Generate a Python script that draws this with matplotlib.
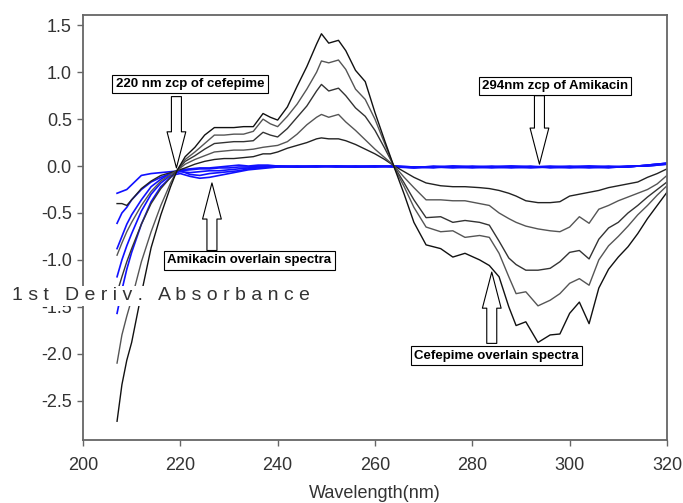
import matplotlib
matplotlib.use('Agg')
import matplotlib.pyplot as plt

plt.rcParams['font.family'] = ['Liberation Sans', 'DejaVu Sans']
plt.rcParams['axes.unicode_minus'] = False

# cefepime 1st derivative spectra (5 concentrations)
wavelength = [207, 208, 209, 210, 212, 214, 216, 218, 219.3, 221, 223, 225, 227, 229, 231, 233, 235, 237,
              238.5, 240, 242, 244, 246, 248, 249, 250.5, 252.5, 254, 256, 258, 260, 262, 264,
              266, 268, 270.5, 273.5, 276, 278.5, 281.5, 283.5, 285.5, 287.5,
              289, 291, 293.5, 296, 298, 300, 302, 304, 306, 308, 310, 312, 314, 316, 318, 320]

cef_1 = [-0.40, -0.40, -0.42, -0.36, -0.24, -0.16, -0.10, -0.07, -0.05,
         -0.02, 0.02, 0.05, 0.07, 0.08, 0.08, 0.09, 0.10, 0.13,
         0.13, 0.15, 0.19, 0.22, 0.25, 0.29, 0.30,
         0.29, 0.29, 0.27, 0.23, 0.18, 0.13, 0.07, 0.00,
         -0.06, -0.12, -0.18, -0.21, -0.22, -0.22, -0.23, -0.24, -0.26, -0.29,
         -0.32, -0.37, -0.39, -0.39, -0.38, -0.32, -0.30, -0.28, -0.26, -0.23,
         -0.21, -0.19, -0.17, -0.12, -0.08, -0.03]
cef_2 = [-0.95, -0.82, -0.70, -0.60, -0.42, -0.27, -0.16, -0.09, -0.05,
         0.02, 0.07, 0.11, 0.15, 0.16, 0.17, 0.17, 0.18, 0.20,
         0.21, 0.22, 0.26, 0.34, 0.44, 0.52, 0.55,
         0.52, 0.55, 0.47, 0.38, 0.28, 0.18, 0.09, 0.00,
         -0.12, -0.23, -0.36, -0.36, -0.37, -0.37, -0.40, -0.42, -0.50, -0.56,
         -0.60, -0.64, -0.67, -0.69, -0.70, -0.65, -0.54, -0.61, -0.46, -0.42,
         -0.37, -0.33, -0.29, -0.25, -0.19, -0.10]
cef_3 = [-1.35, -1.18, -1.02, -0.88, -0.62, -0.40, -0.24, -0.12, -0.05,
         0.05, 0.11, 0.18, 0.24, 0.25, 0.26, 0.26, 0.27, 0.36,
         0.33, 0.31, 0.40, 0.52, 0.64, 0.80, 0.87,
         0.80, 0.83, 0.75, 0.62, 0.53, 0.38, 0.19, -0.01,
         -0.18, -0.36, -0.55, -0.54, -0.60, -0.58, -0.60, -0.63, -0.80, -0.98,
         -1.05, -1.11, -1.11, -1.09, -1.02, -0.92, -0.90, -0.99, -0.78, -0.66,
         -0.60, -0.50, -0.42, -0.33, -0.25, -0.17]
cef_4 = [-2.10, -1.80, -1.60, -1.42, -1.02, -0.70, -0.42, -0.18, -0.05,
         0.07, 0.15, 0.24, 0.33, 0.33, 0.34, 0.34, 0.37, 0.50,
         0.45, 0.42, 0.53, 0.66, 0.82, 1.00, 1.12,
         1.10, 1.13, 1.03, 0.82, 0.71, 0.50, 0.24, -0.02,
         -0.22, -0.44, -0.65, -0.70, -0.69, -0.76, -0.74, -0.76, -0.93, -1.18,
         -1.36, -1.34, -1.49, -1.43, -1.36, -1.25, -1.20, -1.27, -1.00, -0.85,
         -0.75, -0.64, -0.52, -0.42, -0.31, -0.21]
cef_5 = [-2.72, -2.33, -2.07, -1.88, -1.36, -0.87, -0.52, -0.22, -0.05,
         0.10, 0.20, 0.33, 0.41, 0.41, 0.41, 0.42, 0.42, 0.56,
         0.52, 0.49, 0.63, 0.85, 1.06, 1.30, 1.41,
         1.31, 1.34, 1.23, 1.02, 0.90, 0.57, 0.27, -0.02,
         -0.30, -0.60, -0.84, -0.88, -0.97, -0.93, -1.00, -1.06, -1.18, -1.50,
         -1.70, -1.66, -1.88, -1.80, -1.79, -1.57, -1.45, -1.68, -1.30, -1.10,
         -0.97, -0.86, -0.72, -0.56, -0.42, -0.28]

# amikacin 1st derivative spectra
amk_wavelength = [207, 208, 209, 210, 212, 214, 216, 218,
                  220, 222, 224, 226, 228, 230, 232, 234, 236, 238, 240,
                  244, 248, 252, 256, 260, 264, 268, 272, 276, 280,
                  284, 288, 292, 296, 300, 304, 308, 312, 316, 320]
amk_1 = [-0.29, -0.27, -0.25, -0.20, -0.10, -0.08, -0.07, -0.06,
         -0.05, -0.04, -0.03, -0.03, -0.02, -0.02, -0.01, -0.01, 0.00, 0.00, 0.00,
         -0.01, 0.00, -0.01, 0.00, 0.00, -0.01, -0.02, 0.00, -0.01, -0.02,
         -0.01, 0.00, -0.01, -0.01, -0.02, -0.01, 0.00, -0.01, 0.01, 0.03]
amk_2 = [-0.61, -0.50, -0.44, -0.36, -0.25, -0.17, -0.12, -0.08,
         -0.06, -0.07, -0.06, -0.05, -0.05, -0.04, -0.03, -0.02, -0.01, -0.01, 0.00,
         0.00, -0.01, 0.00, -0.01, 0.00, 0.00, -0.01, -0.01, 0.00, -0.01,
         -0.02, -0.01, 0.00, -0.02, -0.01, 0.00, -0.01, 0.00, 0.00, 0.02]
amk_3 = [-0.88, -0.75, -0.62, -0.52, -0.36, -0.22, -0.14, -0.08,
         -0.05, -0.09, -0.10, -0.08, -0.07, -0.06, -0.05, -0.03, -0.02, -0.01, -0.01,
         -0.01, -0.01, 0.00, 0.00, -0.01, 0.00, -0.02, -0.01, -0.01, 0.00,
         -0.01, -0.02, -0.01, 0.00, -0.01, -0.02, -0.01, -0.01, 0.01, 0.03]
amk_4 = [-1.18, -1.00, -0.85, -0.72, -0.48, -0.30, -0.18, -0.10,
         -0.08, -0.11, -0.13, -0.12, -0.10, -0.08, -0.06, -0.04, -0.03, -0.02, -0.01,
         0.00, 0.00, -0.01, -0.01, 0.00, -0.01, -0.01, -0.02, 0.00, -0.01,
         0.00, -0.01, -0.02, -0.01, 0.00, -0.01, -0.02, 0.00, 0.00, 0.02]
amk_5 = [-1.57, -1.32, -1.10, -0.92, -0.62, -0.38, -0.22, -0.12,
         -0.04, -0.03, -0.02, -0.02, -0.01, 0.00, 0.01, 0.00, 0.01, 0.01, 0.00,
         -0.01, 0.00, 0.00, -0.01, -0.01, 0.00, -0.01, -0.01, -0.02, -0.01,
         -0.01, 0.00, -0.01, -0.01, -0.01, 0.00, -0.01, -0.01, 0.01, 0.03]

x_ticks = [200, 220, 240, 260, 280, 300, 320]
y_ticks = [1.5, 1.0, 0.5, 0.0, -0.5, -1.0, -1.5, -2.0, -2.5]

fig = plt.figure(figsize=(6.83, 5.03), dpi=100)
ax = fig.add_axes([0.1215, 0.1252, 0.855, 0.845])

for amk in [amk_1, amk_2, amk_3, amk_4, amk_5]:
    ax.plot(amk_wavelength, amk, color='#1010ff', lw=1.2)

cef_colors = ['#222222', '#555555', '#333333', '#555555', '#111111']
for cef, c in zip([cef_1, cef_2, cef_3, cef_4, cef_5], cef_colors):
    ax.plot(wavelength, cef, color=c, lw=1.0)

ax.set_xlim(200, 320)
ax.set_ylim(-2.92, 1.61)
ax.set_xticks(x_ticks)
ax.set_yticks(y_ticks)
ax.set_yticklabels(['%.1f' % v for v in y_ticks])
ax.tick_params(direction='out', length=4, width=1, color='#666666',
               labelsize=13, labelcolor='#333333')
ax.tick_params(axis='x', pad=8)
ax.tick_params(axis='y', pad=4)
for sp in ax.spines.values():
    sp.set_color('#666666')
    sp.set_linewidth(1.3)

# boxed notes with hollow arrows
box = dict(boxstyle='square,pad=0.25', fc='white', ec='black', lw=0.8)
arrow = dict(arrowstyle='simple,head_length=2.6,head_width=1.35,tail_width=0.72',
             mutation_scale=10, fc='white', ec='black', lw=0.8, shrinkA=0, shrinkB=0)

notes = [
    ('220 nm zcp of cefepime', (222.0, 0.874), (219.2, 0.74), (219.2, -0.02)),
    ('294nm zcp of Amikacin', (297.0, 0.852), (293.8, 0.75), (293.8, 0.02)),
    ('Amikacin overlain spectra', (234.2, -1.005), (226.5, -0.90), (226.5, -0.18)),
    ('Cefepime overlain spectra', (284.9, -2.02), (284.0, -1.89), (284.0, -1.13)),
]
for label, pos, tail, tip in notes:
    ax.annotate('', xy=tip, xytext=tail, arrowprops=arrow, zorder=5)
    ax.text(pos[0], pos[1], label, ha='center', va='center', fontsize=9.5,
            fontweight='bold', bbox=box, zorder=6)

fig.text(12 / 683, 1 - 296 / 503, '1 s t   D e r i v .   A b s o r b a n c e',
         ha='left', va='center', fontsize=14, color='#333333', zorder=10,
         bbox=dict(boxstyle='square,pad=0.1', fc='white', ec='none'))
fig.text(375 / 683, 1 - 493 / 503, 'Wavelength(nm)', ha='center', va='center',
         fontsize=13, color='#333333')

fig.savefig('out.png', dpi=100)
